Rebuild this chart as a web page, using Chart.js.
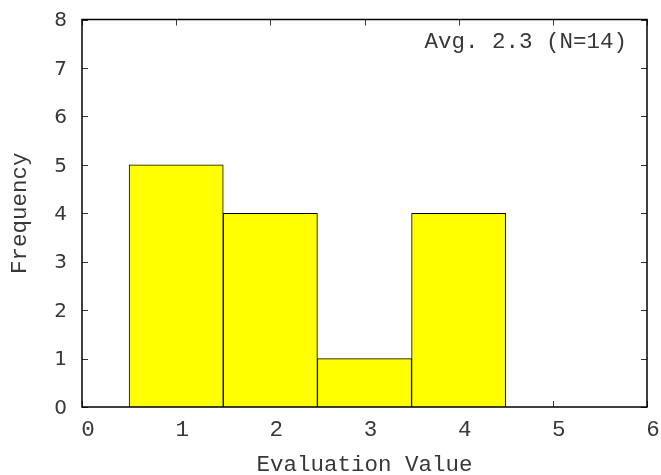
<!DOCTYPE html>
<html>
<head>
<meta charset="utf-8">
<script src="https://cdn.jsdelivr.net/npm/chart.js@4/dist/chart.umd.min.js"></script>
<style>
  html, body { margin: 0; padding: 0; background: #fff; }
  #wrap { width: 661px; height: 475px; }
</style>
</head>
<body>
<div id="wrap"><canvas id="hist" width="661" height="475"></canvas></div>
<script>
// Histogram of evaluation scores
const evalValues = [1, 2, 3, 4];
const frequencies = [5, 4, 1, 4];
const xTickValues = [0, 1, 2, 3, 4, 5, 6];
const yTickValues = [0, 1, 2, 3, 4, 5, 6, 7, 8];
const xAxisTitle = 'Evaluation Value';
const yAxisTitle = 'Frequency';

const total = frequencies.reduce((a, b) => a + b, 0);
const mean = evalValues.reduce((s, v, i) => s + v * frequencies[i], 0) / total;
const summaryText = 'Avg. ' + mean.toFixed(1) + ' (N=' + total + ')';

const MONO = '"Liberation Mono", "Courier New", monospace';
const TEXT = '#383838';

// Frame with inward ticks on all four sides, plus the summary label
const framePlugin = {
  id: 'frame',
  beforeDatasetsDraw(chart) {
    const { ctx, chartArea: a, scales: { x, y } } = chart;
    const len = 6;
    ctx.save();
    ctx.strokeStyle = '#333';
    ctx.lineWidth = 1;
    ctx.beginPath();
    xTickValues.forEach(v => {
      const px = Math.round(x.getPixelForValue(v)) + 0.5;
      ctx.moveTo(px, a.bottom); ctx.lineTo(px, a.bottom - len);
      ctx.moveTo(px, a.top); ctx.lineTo(px, a.top + len);
    });
    yTickValues.forEach(v => {
      const py = Math.round(y.getPixelForValue(v)) + 0.5;
      ctx.moveTo(a.left, py); ctx.lineTo(a.left + len, py);
      ctx.moveTo(a.right, py); ctx.lineTo(a.right - len, py);
    });
    ctx.stroke();
    ctx.restore();
  },
  afterDatasetsDraw(chart) {
    const { ctx, chartArea: a } = chart;
    ctx.save();
    ctx.strokeStyle = '#000';
    ctx.lineWidth = 1.5;
    ctx.strokeRect(a.left, a.top, a.right - a.left, a.bottom - a.top);
    ctx.fillStyle = TEXT;
    ctx.font = '22.5px ' + MONO;
    ctx.textAlign = 'right';
    ctx.textBaseline = 'middle';
    ctx.fillText(summaryText, a.right - 20, a.top + 23);
    ctx.restore();
  }
};

new Chart(document.getElementById('hist'), {
  type: 'bar',
  data: {
    datasets: [{
      data: evalValues.map((v, i) => ({ x: v, y: frequencies[i] })),
      backgroundColor: '#ffff00',
      borderColor: '#000',
      borderWidth: 1,
      barPercentage: 1,
      categoryPercentage: 1
    }]
  },
  options: {
    responsive: false,
    animation: false,
    events: [],
    layout: { padding: { left: 0, right: 14, top: 19.5, bottom: 0 } },
    plugins: { legend: { display: false }, tooltip: { enabled: false } },
    scales: {
      x: {
        type: 'linear',
        offset: false,
        min: xTickValues[0],
        max: xTickValues[xTickValues.length - 1],
        afterBuildTicks: s => { s.ticks = xTickValues.map(v => ({ value: v })); },
        afterFit: s => { s.height = 68; s.paddingLeft = 0; s.paddingRight = 0; },
        grid: { display: false, drawTicks: false, offset: false },
        border: { display: false },
        ticks: {
          font: { family: MONO, size: 22.5 },
          color: TEXT,
          padding: 10,
          labelOffset: 6,
          maxRotation: 0
        },
        title: {
          display: true,
          text: xAxisTitle,
          font: { family: MONO, size: 22.5, lineHeight: 1 },
          color: TEXT,
          padding: { top: 0, bottom: -1 }
        }
      },
      y: {
        min: yTickValues[0],
        max: yTickValues[yTickValues.length - 1],
        afterBuildTicks: s => { s.ticks = yTickValues.map(v => ({ value: v })); },
        afterFit: s => { s.width = 82; s.paddingTop = 0; s.paddingBottom = 0; },
        grid: { display: false, drawTicks: false },
        border: { display: false },
        ticks: {
          font: { family: '"DejaVu Sans", sans-serif', size: 20 },
          color: TEXT,
          padding: 15,
          labelOffset: 1.5
        },
        title: {
          display: true,
          text: yAxisTitle,
          font: { family: MONO, size: 22.5, lineHeight: 1 },
          color: TEXT,
          padding: { top: 9, bottom: 0 }
        }
      }
    }
  },
  plugins: [framePlugin]
});
</script>
</body>
</html>
